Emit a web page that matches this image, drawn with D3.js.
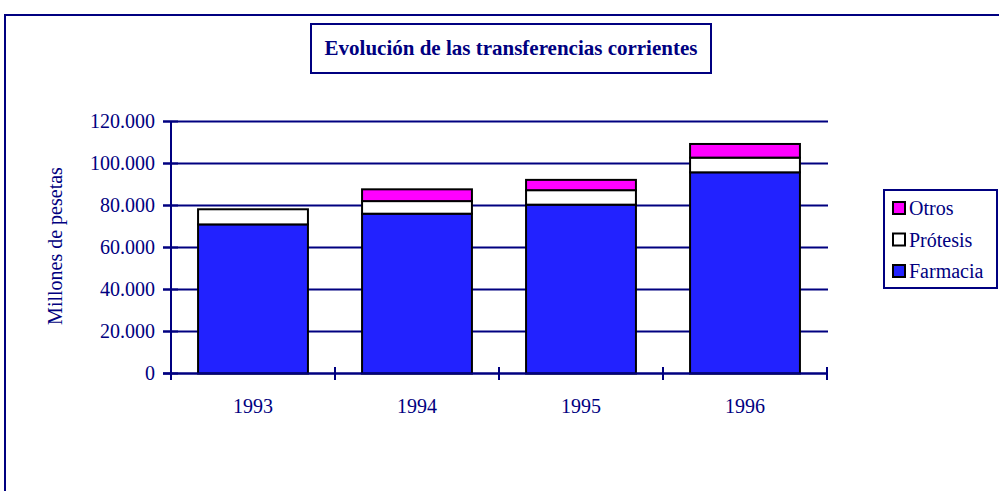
<!DOCTYPE html>
<html>
<head>
<meta charset="utf-8">
<script src="https://cdn.jsdelivr.net/npm/d3@7"></script>
<style>
  body { margin: 0; background: #fff; }
</style>
</head>
<body>
<div id="chart"></div>
<script>
const years = ["1993", "1994", "1995", "1996"];
const farmacia = [71000, 76100, 80400, 95800];
const protesis = [7200, 6000, 6900, 7000];
const otros = [0, 5600, 4900, 6500];
const seriesNames = ["Farmacia", "Prótesis", "Otros"];
const seriesColors = ["#2222ff", "#ffffff", "#ff00ff"];
const yTicks = [0, 20000, 40000, 60000, 80000, 100000, 120000];

const W = 999, H = 491;
const navy = "#000080";
const serif = "'Liberation Serif', 'DejaVu Serif', serif";

const svg = d3.select("#chart").append("svg")
    .attr("width", W).attr("height", H)
    .style("font-family", serif);

// outer frame
svg.append("rect")
    .attr("x", 5).attr("y", 15).attr("width", 1010).attr("height", 500)
    .attr("fill", "none").attr("stroke", navy).attr("stroke-width", 2);

// title box
svg.append("rect")
    .attr("x", 311).attr("y", 24).attr("width", 400).attr("height", 49)
    .attr("fill", "#fff").attr("stroke", navy).attr("stroke-width", 2);
svg.append("text")
    .attr("x", 511).attr("y", 55)
    .attr("text-anchor", "middle")
    .attr("fill", navy)
    .style("font-family", serif)
    .style("font-weight", "bold").style("font-size", "21px")
    .text("Evolución de las transferencias corrientes");

const x = d3.scaleBand().domain(years).range([171, 827])
    .paddingInner(0.33).paddingOuter(0.165);
const y = d3.scaleLinear().domain([0, 120000]).range([373.5, 121.5]);

const rows = years.map((yr, i) => ({ year: yr, Farmacia: farmacia[i], "Prótesis": protesis[i], Otros: otros[i] }));
const stack = d3.stack().keys(seriesNames)(rows);

// gridlines
svg.append("g").selectAll("line").data(yTicks).join("line")
    .attr("x1", 163).attr("x2", 828)
    .attr("y1", d => y(d)).attr("y2", d => y(d))
    .attr("stroke", navy).attr("stroke-width", 2);

// bars
svg.append("g").selectAll("g").data(stack).join("g")
    .attr("fill", (d, i) => seriesColors[i])
    .selectAll("rect").data(d => d.filter(s => s[1] > s[0])).join("rect")
    .attr("x", d => x(d.data.year))
    .attr("width", x.bandwidth())
    .attr("y", d => y(d[1]))
    .attr("height", d => y(d[0]) - y(d[1]))
    .attr("stroke", "#000").attr("stroke-width", 2);

// y axis
const yAxis = svg.append("g").attr("transform", "translate(171,0)")
    .call(d3.axisLeft(y).tickValues(yTicks).tickSize(0).tickPadding(16)
        .tickFormat(d => d3.format(",")(d).replace(/,/g, ".")));
yAxis.attr("font-family", null).attr("font-size", null);
yAxis.select(".domain").remove();
yAxis.selectAll("text")
    .style("font-family", serif).style("font-size", "20px")
    .attr("fill", navy);
svg.append("line").attr("x1", 171).attr("x2", 171).attr("y1", 121).attr("y2", 380)
    .attr("stroke", navy).attr("stroke-width", 2);
svg.append("g").selectAll("line").data(yTicks).join("line")
    .attr("x1", 163).attr("x2", 178)
    .attr("y1", d => y(d)).attr("y2", d => y(d))
    .attr("stroke", navy).attr("stroke-width", 2);

// x axis
svg.append("line").attr("x1", 163).attr("x2", 828).attr("y1", y(0)).attr("y2", y(0))
    .attr("stroke", navy).attr("stroke-width", 2);
const boundaries = years.map(d => x(d) - x.step() * x.paddingOuter()).concat([827]);
svg.append("g").selectAll("line").data(boundaries).join("line")
    .attr("x1", d => d).attr("x2", d => d)
    .attr("y1", 367).attr("y2", 380)
    .attr("stroke", navy).attr("stroke-width", 2);
svg.append("g").selectAll("text").data(years).join("text")
    .attr("x", d => x(d) + x.bandwidth() / 2)
    .attr("y", 413)
    .attr("text-anchor", "middle")
    .attr("fill", navy)
    .style("font-family", serif)
    .style("font-size", "20px")
    .text(d => d);

// y axis title
svg.append("text")
    .attr("transform", "translate(62,246) rotate(-90)")
    .attr("text-anchor", "middle")
    .attr("fill", navy)
    .style("font-family", serif)
    .style("font-size", "20px")
    .text("Millones de pesetas");

// legend
const legend = svg.append("g");
legend.append("rect")
    .attr("x", 884).attr("y", 190).attr("width", 113).attr("height", 98)
    .attr("fill", "#fff").attr("stroke", navy).attr("stroke-width", 2);
const legendOrder = [2, 1, 0];
const li = legend.selectAll("g.item").data(legendOrder).join("g")
    .attr("transform", (d, i) => `translate(893,${208 + i * 31.5})`);
li.append("rect")
    .attr("x", 0).attr("y", -6).attr("width", 12).attr("height", 12)
    .attr("fill", d => seriesColors[d]).attr("stroke", "#000").attr("stroke-width", 2);
li.append("text")
    .attr("x", 16).attr("y", 7)
    .attr("fill", navy)
    .style("font-family", serif)
    .style("font-size", "20px")
    .text(d => seriesNames[d]);
</script>
</body>
</html>
